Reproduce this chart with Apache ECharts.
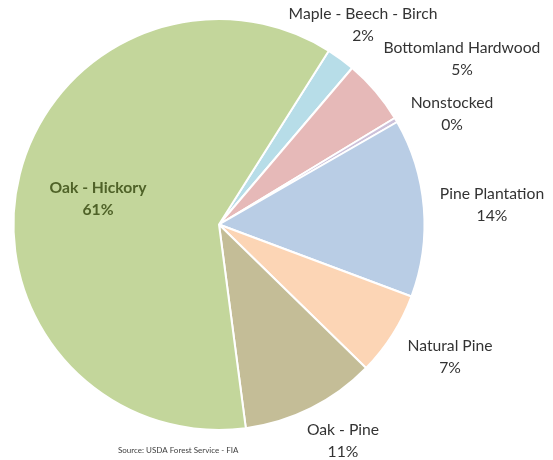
<!DOCTYPE html>
<html>
<head>
<meta charset="utf-8">
<script src="https://cdn.jsdelivr.net/npm/echarts@6/dist/echarts.min.js"></script>
<style>html,body{margin:0;padding:0;background:#fff}#c{width:553px;height:460px}</style>
</head>
<body>
<div id="c"></div>
<script>
const categories = ['Maple - Beech - Birch', 'Bottomland Hardwood', 'Nonstocked', 'Pine Plantation', 'Natural Pine', 'Oak - Pine', 'Oak - Hickory'];
const values = [2.25, 5.1, 0.36, 14.0, 6.6, 10.6, 61.0];
const colors = ['#b7dde8', '#e6b9b8', '#ccc1da', '#b9cde5', '#fcd5b5', '#c4bd97', '#c3d69b'];
const sourceText = 'Source: USDA Forest Service - FIA';

const labelPos = [[363, 25], [462, 59], [452, 114], [492, 205], [450, 357], [343, 441], [98, 199]];

const chart = echarts.init(document.getElementById('c'), null, {renderer: 'canvas'});
const total = values.reduce((a, b) => a + b, 0);
chart.setOption({
  animation: false,
  backgroundColor: '#fff',
  title: {
    text: sourceText,
    left: 118, top: 446, padding: 0,
    textStyle: {fontSize: 8, fontWeight: 'normal', color: '#404040', fontFamily: 'Lato'}
  },
  series: [{
    type: 'pie',
    center: [219, 224.5],
    radius: [0, 205.5],
    startAngle: 57.7,
    clockwise: true,
    avoidLabelOverlap: false,
    itemStyle: {borderColor: '#fff', borderWidth: 2},
    label: {
      show: true,
      position: 'outside',
      formatter: p => p.name + '\n' + Math.round(p.value / total * 100) + '%',
      fontFamily: 'Lato',
      fontSize: 15.7,
      lineHeight: 22,
      color: '#333333',
      align: 'center'
    },
    labelLine: {show: false},
    labelLayout: p => ({x: labelPos[p.dataIndex][0], y: labelPos[p.dataIndex][1], align: 'center', verticalAlign: 'middle'}),
    data: categories.map((c, i) => {
      const d = {name: c, value: values[i], itemStyle: {color: colors[i]}};
      if (c === 'Oak - Hickory') d.label = {fontWeight: 'bold', color: '#4f6228'};
      return d;
    })
  }]
});
</script>
</body>
</html>
